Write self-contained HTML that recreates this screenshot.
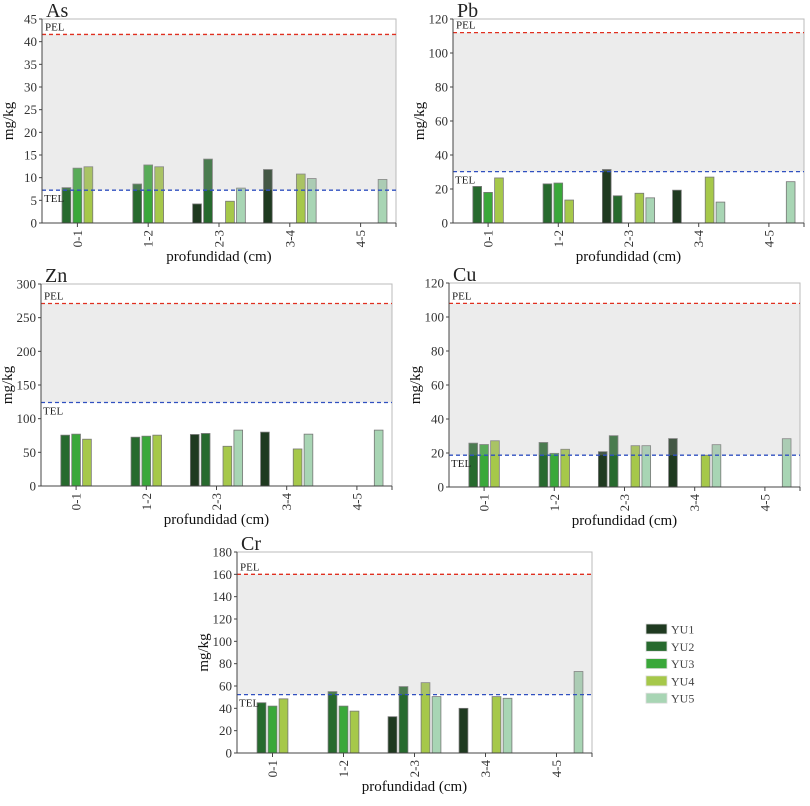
<!DOCTYPE html>
<html><head><meta charset="utf-8">
<style>
body{margin:0;background:#fff;}
svg text{font-family:"Liberation Serif",serif;}
</style></head>
<body>
<svg id="chart" width="810" height="801" viewBox="0 0 810 801" xmlns="http://www.w3.org/2000/svg"></svg>
<script>
const categories = ["0-1","1-2","2-3","3-4","4-5"];
const seriesNames = ["YU1","YU2","YU3","YU4","YU5"];
const seriesColors = ["#1f3a20","#276a2e","#3aa83a","#a6c84a","#a8d5b4"];
// values per series [YU1..YU5] per category; null = no bar
const asValues = [[null,null,4.2,11.8,null],[7.8,8.6,14.1,null,null],[12.1,12.8,null,null,null],[12.4,12.4,4.8,10.8,null],[null,null,7.7,9.8,9.6]];
const pbValues = [[null,null,31.5,19.3,null],[21.5,23,16,null,null],[18,23.5,null,null,null],[26.5,13.5,17.5,27,null],[null,null,14.8,12.3,24.3]];
const znValues = [[null,null,76.5,80,null],[75.5,72.5,78,null,null],[77,74,null,null,null],[69.5,75.5,59,55,null],[null,null,83,77,83]];
const cuValues = [[null,null,20.8,28.5,null],[25.8,26.2,30.2,null,null],[25,19.8,null,null,null],[27.2,22.2,24.3,18.7,null],[null,null,24.3,24.9,28.4]];
const crValues = [[null,null,32.5,40,null],[45,55,59.5,null,null],[42,42,null,null,null],[48.5,37.5,63,50.5,null],[null,null,50.5,49,73]];
const asTicks = [0,5,10,15,20,25,30,35,40,45];
const pbTicks = [0,20,40,60,80,100,120];
const znTicks = [0,50,100,150,200,250,300];
const cuTicks = [0,20,40,60,80,100,120];
const crTicks = [0,20,40,60,80,100,120,140,160,180];
const asLimits = [7.24,41.6];
const pbLimits = [30.2,112];
const znLimits = [124,271];
const cuLimits = [18.7,108];
const crLimits = [52.3,160];

const NS="http://www.w3.org/2000/svg";
const svg=document.getElementById('chart');
function mk(tag,attrs,parent){const e=document.createElementNS(NS,tag);for(const k in attrs)e.setAttribute(k,attrs[k]);(parent||svg).appendChild(e);return e;}

function panel(key,title,L,T,R,B,ticks,values,limits){
  const g=mk('g',{});
  
  
  const max=ticks[ticks.length-1];
  const y=v=>B-(v/max)*(B-T);
  const cw=(R-L)/categories.length;
  const slot=cw*0.155, bw=slot*0.8;
  const x=(ci,si)=>L+cw*(ci+0.5)+(si-2)*slot-bw/2;
  mk('rect',{x:L,y:T,width:R-L,height:B-T,fill:'#fff',stroke:'#bbb','stroke-width':1},g);
  // bars
  values.forEach((ser,si)=>ser.forEach((v,ci)=>{
    if(v==null)return;
    const r=mk('rect',{x:x(ci,si),y:y(v),width:bw,height:B-y(v),fill:seriesColors[si],stroke:'#777','stroke-width':0.8},g);
    
    
  }));
  // band
  const band=mk('rect',{x:L,y:y(limits[1]),width:R-L,height:y(limits[0])-y(limits[1]),fill:'rgb(180,180,180)','fill-opacity':0.25},g);
  
  
  const pel=mk('line',{x1:L,x2:R,y1:y(limits[1]),y2:y(limits[1]),stroke:'#e03020','stroke-width':1.3,'stroke-dasharray':'4,3'},g);
  
  
  const tel=mk('line',{x1:L,x2:R,y1:y(limits[0]),y2:y(limits[0]),stroke:'#3050c0','stroke-width':1.3,'stroke-dasharray':'4,3'},g);
  
  
  const pt=mk('text',{x:L+3,y:y(limits[1])-4,'font-size':11,fill:'#222'},g);pt.textContent='PEL';
  
  
  const tt=mk('text',{x:L+2,y:y(limits[0])+12,'font-size':11,fill:'#222'},g);tt.textContent='TEL';
  
  
  // axes
  mk('line',{x1:L,x2:L,y1:T,y2:B,stroke:'#444','stroke-width':1},g);
  mk('line',{x1:L,x2:R,y1:B,y2:B,stroke:'#444','stroke-width':1},g);
  ticks.forEach(t=>{
    mk('line',{x1:L-3,x2:L,y1:y(t),y2:y(t),stroke:'#444'},g);
    const tx=mk('text',{x:L-5,y:y(t)+4.5,'font-size':13,fill:'#333','text-anchor':'end'},g);tx.textContent=t;
    
    
  });
  categories.forEach((c,ci)=>{
    const cx=L+cw*(ci+0.5);
    mk('line',{x1:cx,x2:cx,y1:B,y2:B+4,stroke:'#444'},g);
    const tx=mk('text',{x:0,y:0,'font-size':13,fill:'#333','text-anchor':'end',transform:`translate(${cx+4.5},${B+7}) rotate(-90)`},g);tx.textContent=c;
    
    
  });
  mk('line',{x1:R,x2:R,y1:B,y2:B+4,stroke:'#444'},g);
  const ti=mk('text',{x:L+4,y:T-2,'font-size':20,fill:'#222'},g);ti.textContent=title;
  
  
  const yl=mk('text',{x:0,y:0,'font-size':15,fill:'#111','text-anchor':'middle',transform:`translate(${L-29},${(T+B)/2}) rotate(-90)`},g);yl.textContent='mg/kg';
  
  
  const xl=mk('text',{x:(L+R)/2,y:B+38,'font-size':15,fill:'#111','text-anchor':'middle'},g);xl.textContent='profundidad (cm)';
  
  
}
panel('as','As',42,19,396,223,asTicks,asValues,asLimits);
panel('pb','Pb',453,19,804,223,pbTicks,pbValues,pbLimits);
panel('zn','Zn',41,284,392,486,znTicks,znValues,znLimits);
panel('cu','Cu',449,283,800,487,cuTicks,cuValues,cuLimits);
panel('cr','Cr',237,552,592,753,crTicks,crValues,crLimits);

// legend
const lg=mk('g',{});


seriesNames.forEach((n,i)=>{
  const yy=624+i*17.3;
  const sw=mk('rect',{x:646,y:yy,width:21,height:10,fill:seriesColors[i],stroke:'#ddd','stroke-width':0.8},lg);
  
  
  const t=mk('text',{x:671,y:yy+9.5,'font-size':12,fill:'#444'},lg);t.textContent=n;
  
  
});
</script>
</body></html>
